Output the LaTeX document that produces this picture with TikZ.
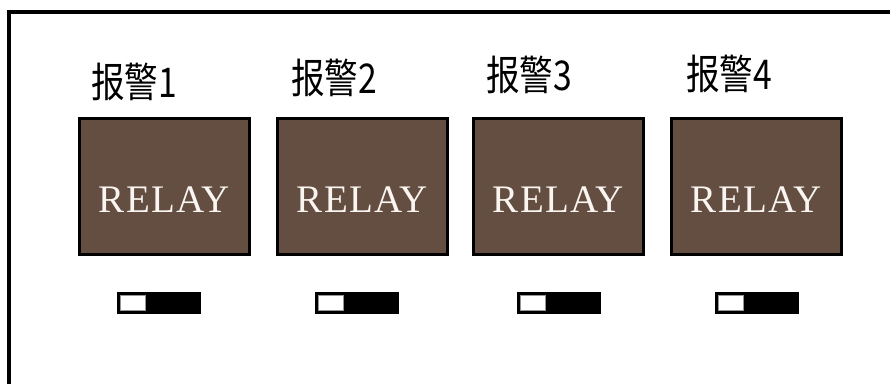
\documentclass[tikz,border=0pt]{standalone}
\usepackage{fontspec}
\newfontfamily\cjkfont[FakeStretch=0.82]{Noto Sans CJK SC}
\newfontfamily\relayfont[LetterSpace=3]{Liberation Serif}
\definecolor{relaybrown}{RGB}{99,78,65}
\definecolor{knobgray}{RGB}{150,150,150}
\tikzset{
  relaybox/.style={draw=black, line width=3pt, fill=relaybrown, text=white!92!brown,
    minimum width=170pt, minimum height=136pt, inner sep=0pt,
    text height=51pt, text depth=0pt, font=\relayfont\fontsize{39}{39}\selectfont},
  alarmlabel/.style={anchor=base west, inner sep=0pt, font=\cjkfont\fontsize{41}{41}\selectfont},
  switchbody/.style={draw=black, line width=1pt, fill=black, minimum width=83pt, minimum height=21pt, inner sep=0pt},
  switchknob/.style={draw=knobgray, line width=0.8pt, fill=white, minimum width=25pt, minimum height=15pt, inner sep=0pt}
}
\begin{document}
\begin{tikzpicture}[x=1pt, y=-1pt]
    \useasboundingbox (0, 0) rectangle (890, 383);
    \draw[line width=3.5pt] (9, 390) -- (9, 12) -- (895, 12); % panel frame
    \foreach \i/\x/\sx/\ly/\lx in {1/164.5/159/97/91, 2/362.5/357/93/291, 3/558.5/559/90/486, 4/756.5/757/89/686}{
        \node[relaybox] (relay\i) at (\x, 186.5) {RELAY}; % relay
        \node[alarmlabel] (alarm\i) at (\lx, \ly) {报警\i}; % alarm label
        \node[switchbody] (sw\i) at (\sx, 303) {}; % switch
        \node[switchknob] (knob\i) at ([xshift=16pt]sw\i.west) {}; % switch knob
    }
\end{tikzpicture}
\end{document}
